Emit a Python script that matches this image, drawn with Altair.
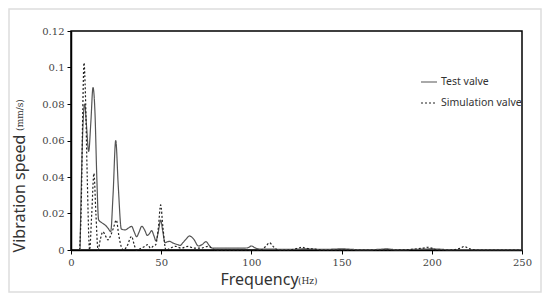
import altair as alt
import pandas as pd

# Test valve (solid)
test_freq = [5, 5.6, 6.5, 7.6, 8.6, 9.8, 11, 12.2, 13.3, 14.3, 15.3, 17, 18.5, 20.5, 22, 23.3,
             24.8, 26.2, 27.9, 30, 31.8, 33.6, 35, 36.4, 37.8, 39.2, 40.8, 42.3, 43.5, 44.7,
             45.9, 47.1, 48.4, 49.7, 50.9, 52.1, 53.4, 54.8, 56.2, 57.6, 59, 60.5, 62, 63.8,
             65.6, 68, 70.6, 72.7, 74.8, 76.6, 78.4, 80, 85, 90, 95, 98, 100, 102, 105, 110,
             120, 130, 140, 150, 160, 170, 175, 180, 190, 200, 210, 220, 230, 240, 250]
test_vals = [0, 0.03, 0.065, 0.080, 0.068, 0.054, 0.07, 0.089, 0.075, 0.04, 0.0165, 0.015,
             0.014, 0.012, 0.010, 0.03, 0.060, 0.035, 0.0115, 0.011, 0.012, 0.013, 0.010,
             0.0073, 0.010, 0.013, 0.011, 0.008, 0.009, 0.0106, 0.008, 0.005, 0.010, 0.0164,
             0.010, 0.004, 0.0045, 0.0047, 0.004, 0.0034, 0.003, 0.0025, 0.004, 0.006, 0.0077,
             0.006, 0.0022, 0.003, 0.0046, 0.0025, 0.001, 0.001, 0.001, 0.001, 0.001, 0.0012,
             0.0022, 0.0012, 0.0005, 0.0005, 0.0003, 0.0006, 0.0003, 0.0006, 0.0002, 0.0003,
             0.0006, 0.0002, 0.0003, 0.0006, 0.0002, 0.0002, 0.0002, 0.0002, 0.0002]

# Simulation valve (dotted)
sim_freq = [4.8, 5.8, 6.5, 7.2, 8, 9, 10.3, 11.5, 12.7, 13.8, 15, 16.3, 17.7, 19, 20.5, 22,
            23.5, 25.1, 26.5, 27.8, 29.2, 31, 33.6, 35, 36.2, 39, 41, 42.5, 44, 45.5, 47, 48.4,
            49.7, 51, 52.6, 55, 58, 61, 65, 68, 72, 76, 80, 90, 100, 105, 108, 110, 112, 115,
            120, 126, 128, 130, 135, 140, 150, 160, 170, 180, 190, 195, 198, 200, 203, 210,
            216, 218, 220, 225, 250]
sim_vals = [0, 0.03, 0.075, 0.1026, 0.085, 0.04, 0, 0.02, 0.042, 0.02, 0, 0.006, 0.010,
            0.008, 0.0055, 0.008, 0.012, 0.0164, 0.008, 0.002, 0, 0.002, 0.0075, 0.003, 0,
            0.001, 0.002, 0.003, 0.001, 0.002, 0.003, 0.012, 0.0247, 0.012, 0, 0.001, 0.002,
            0.001, 0.002, 0.001, 0.001, 0.002, 0, 0, 0, 0, 0.002, 0.004, 0.002, 0, 0, 0.001,
            0.0015, 0.001, 0.0005, 0, 0, 0, 0, 0, 0.0005, 0.001, 0.0015, 0.001, 0, 0, 0.001,
            0.002, 0.001, 0, 0]

series_names = ["Test valve", "Simulation valve"]
x_ticks = [0, 50, 100, 150, 200, 250]
y_ticks = [0, 0.02, 0.04, 0.06, 0.08, 0.1, 0.12]
y_labels_expr = ("datum.value == 0 ? '0' : (abs(datum.value - 0.1) < 1e-9 ? '0.1' : "
                 "format(datum.value, '.2f'))")

df = pd.concat([
    pd.DataFrame({"f": test_freq, "v": test_vals, "s": series_names[0]}),
    pd.DataFrame({"f": sim_freq, "v": sim_vals, "s": series_names[1]}),
])

serif = "DejaVu Serif"
sans = "Noto Sans"

leg = dict(title=None, orient="none", legendX=349, legendY=42, symbolType="stroke",
           symbolSize=256, symbolStrokeWidth=1.2, labelFont=sans, labelFontSize=10.5,
           labelColor="#333", rowPadding=6, labelOffset=3, padding=0)

lines = alt.Chart(df).mark_line(strokeWidth=1.2, interpolate="monotone").encode(
    x=alt.X("f:Q", scale=alt.Scale(domain=[0, 250], nice=False),
            axis=alt.Axis(values=x_ticks, title="Frequency", titleX=188, titleY=29,
                          titleAlign="center", titleBaseline="middle", titleFontSize=16,
                          titleFont=sans, titleFontWeight="normal", titleColor="#333",
                          labelFlush=False)),
    y=alt.Y("v:Q", scale=alt.Scale(domain=[0, 0.12], nice=False),
            axis=alt.Axis(values=y_ticks, labelExpr=y_labels_expr, title="Vibration speed",
                          titleX=-52, titleY=162, titleAngle=270, titleAlign="center",
                          titleBaseline="middle", titleFontSize=16, titleFont=sans,
                          titleFontWeight="normal", titleColor="#333", labelFlush=False)),
    color=alt.Color("s:N", scale=alt.Scale(domain=series_names, range=["#555555", "#222222"]),
                    legend=alt.Legend(**leg)),
    strokeDash=alt.StrokeDash("s:N", scale=alt.Scale(domain=series_names, range=[[1, 0], [2, 2]]),
                              legend=alt.Legend(**leg)),
    order="f:Q",
)

hz = alt.Chart(pd.DataFrame({"t": ["(Hz)"]})).mark_text(
    font=serif, fontSize=9, align="left", baseline="middle", color="#333"
).encode(text="t:N", x=alt.value(227), y=alt.value(250))

mms = alt.Chart(pd.DataFrame({"t": ["(mm/s)"]})).mark_text(
    font=serif, fontSize=9, align="center", baseline="middle", angle=270, color="#333"
).encode(text="t:N", x=alt.value(-51), y=alt.value(84))

frame = alt.Chart(pd.DataFrame({"a": [0]})).mark_rect(
    fill=None, stroke="#dddddd", strokeWidth=1.5
).encode(x=alt.value(-62), x2=alt.value(470), y=alt.value(-22), y2=alt.value(261))

chart = alt.layer(frame, lines, hz, mms).properties(
    width=451, height=219,
    autosize=alt.AutoSizeParams(type="none"),
    padding={"left": 63, "top": 23, "right": 20, "bottom": 43},
    background="white",
).configure_view(stroke="black", strokeWidth=1.5).configure_axis(
    domainColor="black", domainWidth=1.5, tickColor="black", tickSize=4,
    labelFont=serif, labelFontSize=10, labelColor="#444", labelPadding=3, grid=False,
)

chart.save("out.html", embed_options={"renderer": "svg", "actions": False})
